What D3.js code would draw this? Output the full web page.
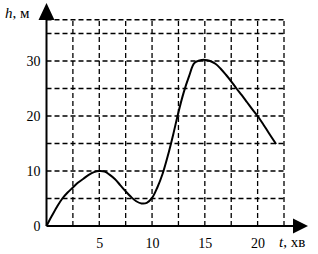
<!DOCTYPE html>
<html>
<head>
<meta charset="utf-8">
<script src="https://cdn.jsdelivr.net/npm/d3@7"></script>
<style>
  body { margin: 0; background: #fff; }
  svg { display: block; }
  text { font-family: "Liberation Serif", "Times New Roman", serif; fill: #000; }
</style>
</head>
<body>
<figure id="chart" style="margin:0"></figure>
<script>
// curve every half minute: time t (хв) and height h (м)
const times   = [0, 0.5, 1, 1.5, 2, 2.5, 3, 3.5, 4, 4.5, 5, 5.5, 6, 6.5, 7, 7.5, 8, 8.5, 9, 9.5,
                 10, 10.5, 11, 11.5, 12, 12.5, 13, 13.5, 14, 14.5, 15, 15.5, 16, 16.5, 17, 17.5,
                 18, 18.5, 19, 19.5, 20, 20.5, 21, 21.75];
const heights = [0, 1.8, 3.5, 5, 6.1, 7, 7.9, 8.6, 9.3, 9.8, 10, 9.9, 9.3, 8.5, 7.4, 6.3, 5.3, 4.5, 4.1, 4.2,
                 5.1, 7, 9.5, 12.8, 16.6, 20.7, 24.3, 27.2, 29.6, 30.1, 30.2, 30, 29.5, 28.6, 27.5, 26.3,
                 25, 23.8, 22.5, 21.2, 20, 18.6, 17.1, 14.9];

const xTicks = [5, 10, 15, 20];
const yTicks = [0, 10, 20, 30];
const xGrid = [2.5, 5, 7.5, 10, 12.5, 15, 17.5, 20, 22.5];
const yGrid = [5, 10, 15, 20, 25, 30, 35, 37.5];

const width = 318;
const height = 254;

const x = d3.scaleLinear().domain([0, 22.5]).range([46.5, 284]);
const y = d3.scaleLinear().domain([0, 37.5]).range([226, 19.75]);

const svg = d3.select("figure#chart")
  .append("svg")
  .attr("width", width)
  .attr("height", height);

// dashed grid
svg.append("g")
  .selectAll("line")
  .data(xGrid)
  .enter()
  .append("line")
  .attr("x1", d => x(d)).attr("x2", d => x(d))
  .attr("y1", y(0)).attr("y2", y(37.5))
  .attr("stroke", "#000")
  .attr("stroke-width", 1.3)
  .attr("stroke-dasharray", "5,3");

svg.append("g")
  .selectAll("line")
  .data(yGrid)
  .enter()
  .append("line")
  .attr("x1", x(0)).attr("x2", x(22.5))
  .attr("y1", d => y(d)).attr("y2", d => y(d))
  .attr("stroke", "#000")
  .attr("stroke-width", 1.3)
  .attr("stroke-dasharray", "5,3");

// tick labels
svg.append("g")
  .attr("transform", "translate(0," + y(0) + ")")
  .call(d3.axisBottom(x).tickValues(xTicks).tickSize(0).tickPadding(12))
  .call(g => g.select(".domain").remove())
  .selectAll("text")
  .style("font-size", "14px");

svg.append("g")
  .attr("transform", "translate(" + x(0) + ",0)")
  .call(d3.axisLeft(y).tickValues(yTicks).tickSize(0).tickPadding(6))
  .call(g => g.select(".domain").remove())
  .selectAll("text")
  .style("font-size", "14px");

// axes with arrows
svg.append("line")
  .attr("x1", x(0)).attr("x2", 294)
  .attr("y1", y(0)).attr("y2", y(0))
  .attr("stroke", "#000").attr("stroke-width", 2);
svg.append("path")
  .attr("d", "M293," + (y(0) - 7.5) + "L308," + y(0) + "L293," + (y(0) + 7.5) + "Z")
  .attr("fill", "#000");

svg.append("line")
  .attr("x1", x(0)).attr("x2", x(0))
  .attr("y1", y(0)).attr("y2", 19)
  .attr("stroke", "#000").attr("stroke-width", 2);
svg.append("path")
  .attr("d", "M" + (x(0) - 8) + ",20L" + x(0) + ",3L" + (x(0) + 8) + ",20Z")
  .attr("fill", "#000");

// the curve
const line = d3.line()
  .x((d, i) => x(times[i]))
  .y(d => y(d))
  .curve(d3.curveCatmullRom.alpha(0.5));

svg.append("path")
  .datum(heights)
  .attr("d", line)
  .attr("fill", "none")
  .attr("stroke", "#000")
  .attr("stroke-width", 2);

// axis names
const hLabel = svg.append("text")
  .attr("x", 5)
  .attr("y", 18)
  .style("font-size", "15px");
hLabel.append("tspan").style("font-style", "italic").text("h");
hLabel.append("tspan").text(", м");

const tLabel = svg.append("text")
  .attr("x", 279)
  .attr("y", 247)
  .style("font-size", "15px");
tLabel.append("tspan").style("font-style", "italic").text("t");
tLabel.append("tspan").text(", хв");
</script>
</body>
</html>
